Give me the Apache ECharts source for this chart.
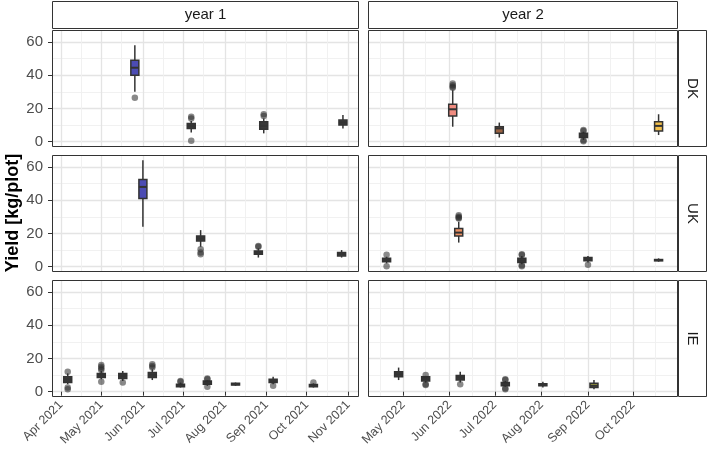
<!DOCTYPE html>
<html><head><meta charset="utf-8">
<script src="https://cdn.jsdelivr.net/npm/echarts@6/dist/echarts.min.js"></script>
<style>html,body{margin:0;padding:0;background:#fff}#c{width:708px;height:458px}</style>
</head><body><div id="c"></div>
<script>
// ---------- data ----------
const rowNames = ['DK', 'UK', 'IE'];
const colNames = ['year 1', 'year 2'];
const yTicks = [0, 20, 40, 60];
const yMinorTicks = [10, 30, 50];
const xTicksYear1 = ['2021-04-01','2021-05-01','2021-06-01','2021-07-01','2021-08-01','2021-09-01','2021-10-01','2021-11-01'];
const xTicksYear2 = ['2022-05-01','2022-06-01','2022-07-01','2022-08-01','2022-09-01','2022-10-01'];
const xMinorYear1 = ['2021-04-16','2021-05-16','2021-06-16','2021-07-16','2021-08-16','2021-09-16','2021-10-16'];
const xMinorYear2 = ['2022-04-16','2022-05-16','2022-06-16','2022-07-16','2022-08-16','2022-09-16','2022-10-16'];

// [date, lower whisker, Q1, median, Q3, upper whisker]
const DK_y1 = [
  ['2021-05-26', 30, 40, 44.5, 49, 58],
  ['2021-07-07', 5.5, 8, 9.5, 11, 12.5],
  ['2021-08-30', 5, 7.5, 9.5, 12, 14],
  ['2021-10-28', 8, 10, 11.5, 13, 16]
];
const DK_y1_out = [['2021-05-26',26.5],['2021-07-07',15],['2021-07-07',14],['2021-07-07',0.5],['2021-08-30',16.5],['2021-08-30',15.5]];

const DK_y2 = [
  ['2022-06-03', 9, 15.5, 19.5, 22.5, 31],
  ['2022-07-04', 2.5, 5, 8, 9, 11.5],
  ['2022-08-29', 1, 2.5, 3.5, 5, 6],
  ['2022-10-18', 4, 6.5, 9.5, 12, 16.5]
];
const DK_y2_out = [['2022-06-03',35],['2022-06-03',34],['2022-06-03',33],['2022-06-03',32.5],['2022-08-29',0.2],['2022-08-29',7],['2022-08-29',6.5],['2022-08-29',0.8]];

const UK_y1 = [
  ['2021-06-01', 24, 41, 48, 52.5, 64],
  ['2021-07-14', 12, 15.5, 17, 18.5, 22],
  ['2021-08-26', 5.5, 7.5, 8.5, 9.5, 11],
  ['2021-10-27', 5.5, 6.5, 7.5, 8.5, 10]
];
const UK_y1_out = [['2021-07-14',10.5],['2021-07-14',8.5],['2021-07-14',7.5],['2021-08-26',12.5],['2021-08-26',12]];

const UK_y2 = [
  ['2022-04-20', 2, 3, 4, 5, 6],
  ['2022-06-07', 14.5, 18.5, 20.5, 23, 27],
  ['2022-07-19', 1.5, 2.5, 3.5, 5, 6.5],
  ['2022-09-01', 2.5, 3.5, 4.5, 5.5, 6.5],
  ['2022-10-18', 3, 3.5, 4, 4.3, 5]
];
const UK_y2_out = [['2022-04-20',7.2],['2022-04-20',0.3],['2022-06-07',31],['2022-06-07',30],['2022-06-07',29.5],['2022-06-07',29],['2022-07-19',7.5],['2022-07-19',7],['2022-07-19',0.3],['2022-07-19',0.8],['2022-09-01',1.2]];

const IE_y1 = [
  ['2021-04-06', 4.5, 5.5, 7.5, 9, 11],
  ['2021-05-01', 7.5, 8.5, 10, 11, 12.5],
  ['2021-05-17', 6.5, 8, 9.5, 11, 12.5],
  ['2021-06-08', 7, 8.5, 10, 11.5, 13.5],
  ['2021-06-29', 2.5, 3, 4, 4.5, 5.5],
  ['2021-07-19', 3.5, 4.5, 5.5, 6.5, 7],
  ['2021-08-09', 3.5, 4, 4.5, 5, 5.5],
  ['2021-09-06', 4.5, 5.5, 6.5, 7.5, 9],
  ['2021-10-06', 2.5, 3, 3.5, 4.3, 5]
];
const IE_y1_out = [['2021-04-06',12],['2021-04-06',2.5],['2021-04-06',1.5],['2021-05-01',16],['2021-05-01',15],['2021-05-01',14],['2021-05-01',13],['2021-05-01',6],['2021-05-17',5.5],['2021-06-08',16.5],['2021-06-08',15.5],['2021-06-08',14.5],['2021-06-29',6.5],['2021-06-29',6],['2021-07-19',8],['2021-07-19',7.5],['2021-07-19',3],['2021-09-06',3.5],['2021-10-06',5.5]];

const IE_y2 = [
  ['2022-04-28', 7, 9, 10.5, 12, 14.5],
  ['2022-05-16', 5.5, 6.5, 7.5, 9, 9.5],
  ['2022-06-08', 5.5, 7, 8.5, 9.8, 12],
  ['2022-07-08', 3, 3.5, 4.5, 5.5, 6.5],
  ['2022-08-02', 2.5, 3.5, 4, 4.8, 6],
  ['2022-09-05', 1.5, 2.5, 3.5, 5, 7]
];
const IE_y2_out = [['2022-05-16',10],['2022-05-16',4.5],['2022-05-16',4],['2022-06-08',4.5],['2022-07-08',7.5],['2022-07-08',7],['2022-07-08',1.5],['2022-07-08',2]];

// ---------- styles ----------
const D = '#383838';
const boxFills = {
  DK_y1: ['#4C4CB4', D, D, D],
  DK_y2: ['#F08C80', '#9A6242', D, '#F3C04C'],
  UK_y1: ['#4C4CB4', D, D, D],
  UK_y2: [D, '#EC9062', D, D, D],
  IE_y1: [D, D, D, D, D, D, D, D, D],
  IE_y2: [D, D, D, D, D, '#8E8E3E']
};
const panels = {
  DK_y1: [DK_y1, DK_y1_out], DK_y2: [DK_y2, DK_y2_out],
  UK_y1: [UK_y1, UK_y1_out], UK_y2: [UK_y2, UK_y2_out],
  IE_y1: [IE_y1, IE_y1_out], IE_y2: [IE_y2, IE_y2_out]
};

const colLeft = [52, 368], colWidth = [307, 310];
const rowTop = [30, 155, 280], rowHeight = 117;
const xRange = [
  [Date.UTC(2021, 2, 25, 7), Date.UTC(2021, 10, 8, 23)],
  [Date.UTC(2022, 3, 7, 15), Date.UTC(2022, 9, 30, 22)]
];
const yRange = [-3.2, 67.2];
const FONT = '"Liberation Sans", Arial, sans-serif';

const t = s => Date.UTC(+s.slice(0, 4), +s.slice(5, 7) - 1, +s.slice(8, 10));
const MON = ['Jan','Feb','Mar','Apr','May','Jun','Jul','Aug','Sep','Oct','Nov','Dec'];
const fmt = v => { const d = new Date(v); return MON[d.getUTCMonth()] + ' ' + d.getUTCFullYear(); };

const grids = [], xAxes = [], yAxes = [], series = [], graphics = [];
const border = { fill: 'none', stroke: '#333', lineWidth: 1 };
rowNames.forEach((rn, r) => {
  colNames.forEach((cn, c) => {
    const g = grids.length;
    const key = rn + '_y' + (c + 1);
    grids.push({ left: colLeft[c], top: rowTop[r], width: colWidth[c], height: rowHeight,
      show: false, containLabel: false });
    const majors = (c === 0 ? xTicksYear1 : xTicksYear2).map(t);
    const minors = (c === 0 ? xMinorYear1 : xMinorYear2).map(t);
    const bottom = r === 2, left = c === 0;
    xAxes.push({ type: 'value', gridIndex: g, min: xRange[c][0], max: xRange[c][1], position: 'bottom',
      axisLine: { show: false },
      axisTick: { show: bottom, customValues: majors, length: 4, lineStyle: { color: '#333', width: 1 } },
      axisLabel: { show: bottom, customValues: majors, formatter: fmt, rotate: 45, margin: 6,
        fontSize: 12.5, color: '#4d4d4d', fontFamily: FONT, showMinLabel: true, showMaxLabel: true },
      splitLine: { show: true, lineStyle: { color: '#e4e4e4', width: 1.3 } } });
    xAxes.push({ type: 'value', gridIndex: g, min: xRange[c][0], max: xRange[c][1], position: 'top',
      axisLine: { show: false }, axisTick: { show: false, customValues: minors }, axisLabel: { show: false },
      splitLine: { show: true, lineStyle: { color: '#efefef', width: 0.9 } } });
    yAxes.push({ type: 'value', gridIndex: g, min: yRange[0], max: yRange[1], position: 'left',
      axisLine: { show: false },
      axisTick: { show: left, customValues: yTicks, length: 4, lineStyle: { color: '#333', width: 1 } },
      axisLabel: { show: left, customValues: yTicks, margin: 9, fontSize: 15, color: '#4d4d4d', fontFamily: FONT },
      splitLine: { show: true, lineStyle: { color: '#e4e4e4', width: 1.3 } } });
    yAxes.push({ type: 'value', gridIndex: g, min: yRange[0], max: yRange[1], position: 'right',
      axisLine: { show: false }, axisTick: { show: false, customValues: yMinorTicks }, axisLabel: { show: false },
      splitLine: { show: true, lineStyle: { color: '#efefef', width: 0.9 } } });

    const [boxes, outs] = panels[key];
    const fills = boxFills[key];
    series.push({
      type: 'custom', xAxisIndex: 2 * g, yAxisIndex: 2 * g,
      data: boxes.map(b => [t(b[0]), b[1], b[2], b[3], b[4], b[5]]),
      encode: { x: 0, y: [1, 2, 3, 4, 5] },
      renderItem: (params, api) => {
        const x = api.value(0);
        const p = [1, 2, 3, 4, 5].map(i => api.coord([x, api.value(i)]));
        const cx = p[0][0], w = 8;
        const st = { stroke: '#333', lineWidth: 1.5 };
        return { type: 'group', children: [
          { type: 'line', shape: { x1: cx, y1: p[0][1], x2: cx, y2: p[1][1] }, style: st },
          { type: 'line', shape: { x1: cx, y1: p[3][1], x2: cx, y2: p[4][1] }, style: st },
          { type: 'rect', shape: { x: cx - w / 2, y: p[3][1], width: w, height: p[1][1] - p[3][1] },
            style: { fill: fills[params.dataIndex], stroke: '#333', lineWidth: 1.5 } },
          { type: 'line', shape: { x1: cx - w / 2, y1: p[2][1], x2: cx + w / 2, y2: p[2][1] },
            style: { stroke: '#333', lineWidth: 2 } }
        ] };
      }
    });
    series.push({
      type: 'scatter', xAxisIndex: 2 * g, yAxisIndex: 2 * g, symbolSize: 6.5,
      itemStyle: { color: 'rgba(45,45,45,0.7)' },
      data: outs.map(o => [t(o[0]), o[1]])
    });

    // panel frame
    graphics.push({ type: 'rect', z: 100, shape: { x: colLeft[c] + 0.5, y: rowTop[r] + 0.5, width: colWidth[c] - 1, height: rowHeight - 1 },
      style: border, silent: true });
    if (r === 0) {
      graphics.push({ type: 'rect', shape: { x: colLeft[c] + 0.5, y: 1.5, width: colWidth[c] - 1, height: 27 },
        style: { fill: '#fff', stroke: '#333', lineWidth: 1 } });
      graphics.push({ type: 'text', x: colLeft[c] + colWidth[c] / 2, y: 15,
        style: { text: cn, fontSize: 15, fill: '#1a1a1a', fontFamily: FONT, align: 'center', verticalAlign: 'middle' } });
    }
    if (c === 1) {
      graphics.push({ type: 'rect', shape: { x: colLeft[1] + colWidth[1] + 0.5, y: rowTop[r] + 0.5, width: 28, height: rowHeight - 1 },
        style: { fill: '#fff', stroke: '#333', lineWidth: 1 } });
      graphics.push({ type: 'text', x: colLeft[1] + colWidth[1] + 14.5, y: rowTop[r] + rowHeight / 2, rotation: -Math.PI / 2,
        style: { text: rn, fontSize: 15, fill: '#1a1a1a', fontFamily: FONT, align: 'center', verticalAlign: 'middle' } });
    }
  });
});
graphics.push({ type: 'text', x: 13, y: 213, rotation: Math.PI / 2,
  style: { text: 'Yield [kg/plot]', fontSize: 18, fontWeight: 'bold', fill: '#000', fontFamily: FONT,
    align: 'center', verticalAlign: 'middle' } });

const chart = echarts.init(document.getElementById('c'), null, { renderer: 'canvas' });
chart.setOption({
  animation: false, backgroundColor: '#fff',
  grid: grids, xAxis: xAxes, yAxis: yAxes, series: series, graphic: graphics
});
</script></body></html>
